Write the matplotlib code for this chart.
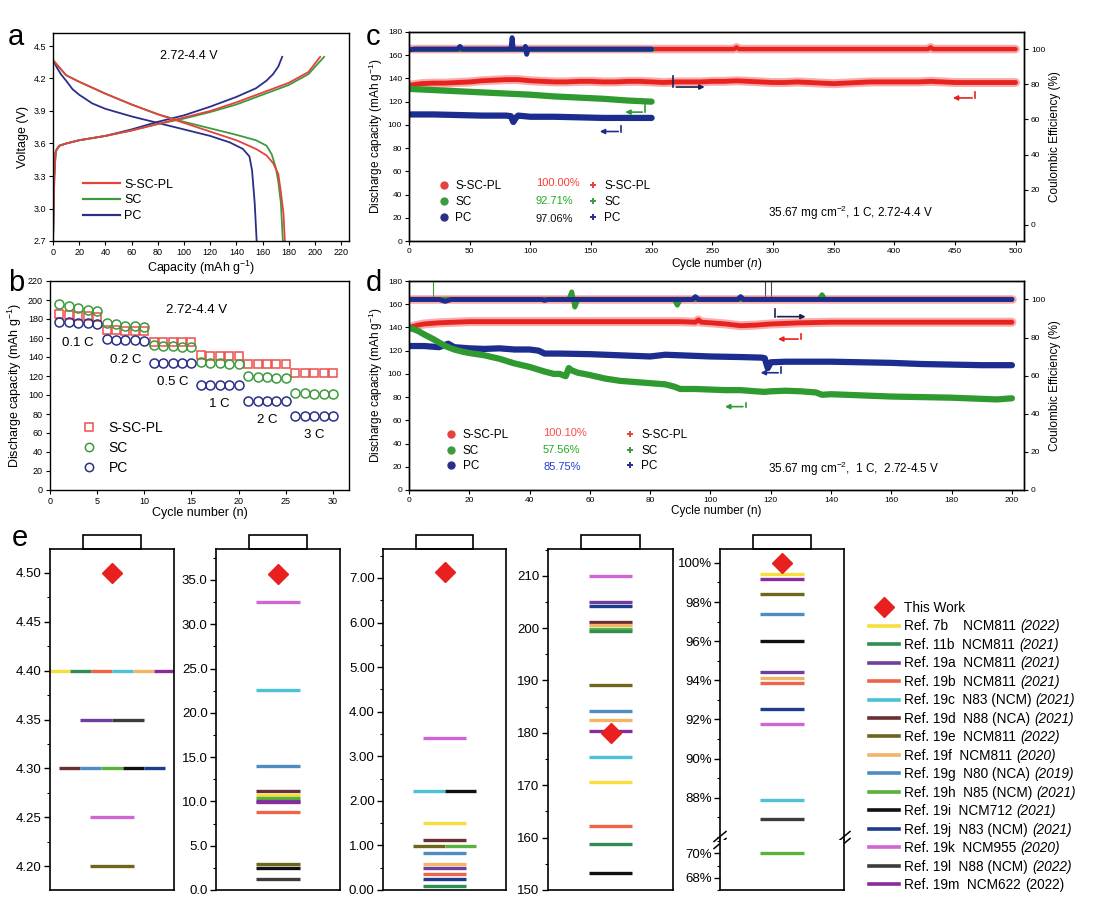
import matplotlib
matplotlib.use('Agg')
import matplotlib.pyplot as plt
from matplotlib.lines import Line2D
from matplotlib.patches import Rectangle
from matplotlib.ticker import MultipleLocator, FixedLocator

plt.rcParams['font.family'] = ['Liberation Sans', 'DejaVu Sans']
plt.rcParams['mathtext.fontset'] = 'custom'
plt.rcParams['mathtext.rm'] = 'Liberation Sans'
plt.rcParams['mathtext.it'] = 'Liberation Sans:italic'
plt.rcParams['mathtext.bf'] = 'Liberation Sans:bold'
plt.rcParams['axes.linewidth'] = 1.0

# ---------------- data: panel a (voltage profiles) ----------------
a_chg_cap_sscpl = [0, 1, 2, 3, 5, 10, 20, 40, 60, 80, 100, 120, 140, 160, 180, 195, 204]
a_chg_v_sscpl = [2.70, 3.30, 3.52, 3.55, 3.58, 3.60, 3.63, 3.67, 3.72, 3.78, 3.84, 3.90, 3.98, 4.07, 4.16, 4.26, 4.40]
a_chg_cap_sc = [0, 1, 2, 3, 5, 10, 20, 40, 60, 80, 100, 120, 140, 160, 180, 195, 207]
a_chg_v_sc = [2.70, 3.30, 3.52, 3.55, 3.58, 3.60, 3.63, 3.67, 3.72, 3.78, 3.83, 3.89, 3.96, 4.05, 4.14, 4.24, 4.40]
a_chg_cap_pc = [0, 1, 2, 3, 5, 10, 20, 40, 60, 80, 100, 120, 140, 155, 163, 168, 172, 175]
a_chg_v_pc = [2.70, 3.30, 3.52, 3.55, 3.58, 3.60, 3.63, 3.67, 3.73, 3.80, 3.86, 3.94, 4.03, 4.11, 4.18, 4.24, 4.31, 4.40]
a_dis_cap_sscpl = [0, 5, 10, 20, 40, 60, 80, 100, 120, 140, 155, 163, 168, 172, 174, 176, 177]
a_dis_v_sscpl = [4.37, 4.30, 4.23, 4.17, 4.06, 3.96, 3.87, 3.79, 3.71, 3.63, 3.55, 3.49, 3.42, 3.32, 3.15, 2.95, 2.70]
a_dis_cap_sc = [0, 5, 10, 20, 40, 60, 80, 100, 120, 140, 155, 163, 167, 170, 172, 174, 175.5]
a_dis_v_sc = [4.37, 4.30, 4.23, 4.17, 4.06, 3.96, 3.87, 3.80, 3.74, 3.68, 3.63, 3.58, 3.50, 3.38, 3.25, 3.05, 2.70]
a_dis_cap_pc = [0, 3, 6, 10, 15, 20, 30, 40, 60, 80, 100, 120, 135, 145, 150, 152, 154, 155.5]
a_dis_v_pc = [4.37, 4.30, 4.24, 4.18, 4.10, 4.05, 3.97, 3.92, 3.85, 3.79, 3.73, 3.67, 3.61, 3.55, 3.48, 3.35, 3.05, 2.70]

# ---------------- data: panel b (rate) ----------------
b_cycles = list(range(1, 31))
b_sscpl = [185, 184, 183, 183, 182, 168, 168, 167, 167, 167, 156, 156, 156, 156, 156,
           142, 141, 141, 141, 141, 133, 133, 133, 133, 133, 123, 123, 123, 123, 123]
b_sc = [196, 194, 192, 190, 188, 176, 175, 173, 173, 172, 153, 152, 152, 151, 151,
        135, 134, 134, 133, 133, 120, 119, 119, 118, 118, 102, 102, 101, 101, 101]
b_pc = [177, 177, 176, 176, 175, 159, 158, 158, 158, 157, 134, 134, 134, 134, 134,
        111, 111, 111, 111, 111, 94, 94, 94, 94, 94, 78, 78, 78, 78, 78]
b_rates = ['0.1 C', '0.2 C', '0.5 C', '1 C', '2 C', '3 C']

# ---------------- data: panel c (long cycling, 4.4 V) ----------------
c_cyc_sscpl = [0, 10, 20, 30, 40, 50, 60, 70, 80, 90, 100, 110, 120, 130, 140, 150, 160, 170, 180, 190,
               200, 210, 220, 230, 240, 250, 260, 270, 280, 290, 300, 310, 320, 330, 340, 350, 360, 370,
               380, 390, 400, 410, 420, 430, 440, 450, 460, 470, 480, 490, 500]
c_cap_sscpl = [134, 135.5, 136, 136, 136.5, 137, 138, 138.5, 139, 139, 138, 137.5, 137, 137, 137.5, 137.5,
               137, 137, 137.5, 137.5, 137, 136.5, 137, 137, 137, 137.5, 137.5, 138, 137.5, 137, 136.5,
               136.5, 137, 136.5, 136, 135.5, 136, 136.5, 137, 137, 137, 137, 137, 137.5, 137, 136.5,
               136.5, 136.5, 136.5, 136.5, 136.5]
c_cyc_sc = [0, 20, 40, 60, 80, 100, 120, 140, 160, 180, 200]
c_cap_sc = [131, 130, 129, 128, 127, 126, 124.5, 123.5, 122.5, 121, 120]
c_cyc_pc = [0, 20, 40, 60, 80, 84, 86, 88, 90, 100, 120, 140, 160, 180, 200]
c_cap_pc = [109, 109, 108.5, 108, 108, 107.5, 102.5, 106, 108, 107, 107, 106.5, 106, 106, 106]
c_ce_cyc_sscpl = [0, 50, 100, 150, 200, 250, 268, 270, 272, 300, 350, 400, 428, 430, 432, 450, 500]
c_ce_sscpl = [100, 100, 100, 100, 100, 100, 100, 101, 100, 100, 100, 100, 100, 101, 100, 100, 100]
c_ce_cyc_sc = [0, 50, 100, 150, 200]
c_ce_sc = [100, 100, 100, 100, 100]
c_ce_cyc_pc = [0, 5, 10, 20, 30, 40, 42, 44, 50, 60, 70, 80, 84, 85, 86, 90, 95, 96, 97, 98, 100,
               110, 120, 130, 140, 150, 160, 170, 180, 190, 200]
c_ce_pc = [99.5, 100, 100, 100, 100, 100, 101.5, 100, 100, 100, 100, 100, 100, 106.5, 100, 100, 100,
           101.5, 97, 100, 100, 100, 100, 100, 100, 100, 100, 100, 100, 100, 100]
c_retention = ['100.00%', '92.71%', '97.06%']

# ---------------- data: panel d (cycling, 4.5 V) ----------------
d_cyc_sscpl = [0, 3, 5, 10, 15, 20, 30, 40, 50, 60, 70, 80, 90, 95, 96, 97, 100, 105, 110, 115, 120,
               125, 130, 140, 150, 160, 170, 180, 190, 200]
d_cap_sscpl = [140, 142, 143, 144, 144.5, 145, 145, 145, 145, 145, 145, 145, 145, 144.5, 146.5, 144.5,
               144, 143, 141.5, 142, 143, 143.5, 144, 144.5, 144.5, 144.5, 144.5, 144.5, 144.5, 144.5]
d_cyc_sc = [0, 3, 5, 8, 10, 12, 15, 18, 20, 25, 30, 35, 40, 45, 48, 50, 52, 53, 54, 56, 60, 65, 70,
            75, 80, 85, 88, 90, 95, 100, 105, 110, 115, 118, 120, 125, 130, 135, 137, 140, 150, 160,
            170, 180, 190, 195, 200]
d_cap_sc = [140, 137, 134, 130, 127, 124, 121, 119, 118, 116, 113, 109, 106, 102, 100, 100, 98, 105,
            103, 101, 99, 96, 94, 93, 92, 91, 89, 87, 87, 86.5, 86, 86, 85, 84.5, 85, 85.5, 85, 84,
            82, 82.5, 81.5, 80.5, 80, 79.5, 78.5, 78, 79]
d_cyc_pc = [0, 5, 10, 13, 15, 20, 25, 30, 35, 40, 43, 45, 50, 60, 70, 75, 80, 85, 90, 95, 100, 110,
            117, 118, 119, 120, 125, 130, 140, 150, 160, 170, 180, 190, 200]
d_cap_pc = [124, 124, 123, 126, 123, 122, 121.5, 122, 121, 121, 120, 117.5, 117.5, 117, 116, 115.5,
            115, 116.5, 116, 115.5, 115, 114.5, 114, 113.5, 105, 110, 110.5, 110.5, 110.5, 110, 109.5,
            108.5, 108, 107.5, 107.5]
d_ce_cyc_sscpl = [0, 20, 40, 60, 80, 100, 120, 140, 160, 180, 200]
d_ce_sscpl = [100, 100, 100, 100, 100, 100, 100, 100, 100, 100, 100]
d_ce_cyc_sc = [0, 20, 40, 53, 54, 55, 56, 70, 88, 89, 90, 110, 136, 137, 138, 160, 180, 200]
d_ce_sc = [100, 100, 100, 100, 104, 96, 100, 100, 100, 97, 100, 100, 100, 102.5, 100, 100, 100, 100]
d_ce_cyc_pc = [0, 10, 12, 14, 30, 44, 45, 46, 60, 80, 94, 95, 96, 100, 109, 110, 111, 117, 121,
               122, 140, 160, 180, 200]
d_ce_pc = [100, 100, 99, 100, 100, 100, 99.5, 100, 100, 100, 100, 101.5, 100, 100, 100, 101.5, 100,
           100, 100, 100, 100, 100, 100, 100]
d_ce_spike_cyc = [8, 118, 120]
d_ce_spike_top = [125, 125, 125]
d_ce_spike_color = ['#3a9a3a', '#444466', '#444466']
d_retention = ['100.10%', '57.56%', '85.75%']

# ---------------- data: panel e (comparison) ----------------
ref_keys = ['7b', '11b', '19a', '19b', '19c', '19d', '19e', '19f', '19g', '19h', '19i', '19j',
            '19k', '19l', '19m']
ref_colors = ['#f6df3c', '#2f8d55', '#6f3f9e', '#ee6446', '#4cc2d6', '#6a2f33', '#6b681c', '#f3b467',
              '#4f8cc4', '#58b23c', '#101010', '#1e3c8c', '#d066d6', '#3c3c3c', '#8a2b9c']
ref_names = ['Ref. 7b    NCM811', 'Ref. 11b  NCM811', 'Ref. 19a  NCM811', 'Ref. 19b  NCM811',
             'Ref. 19c  N83 (NCM)', 'Ref. 19d  N88 (NCA)', 'Ref. 19e  NCM811', 'Ref. 19f  NCM811',
             'Ref. 19g  N80 (NCA)', 'Ref. 19h  N85 (NCM)', 'Ref. 19i  NCM712', 'Ref. 19j  N83 (NCM)',
             'Ref. 19k  NCM955', 'Ref. 19l  N88 (NCM)', 'Ref. 19m  NCM622']
ref_years = ['(2022)', '(2021)', '(2021)', '(2021)', '(2021)', '(2021)', '(2022)', '(2020)', '(2019)',
             '(2021)', '(2021)', '(2021)', '(2020)', '(2022)', '(2022)']
ref_year_italic = [True, True, True, True, True, True, True, True, True, True, True, True, True, True, False]

e1_refs = ['7b', '11b', '19b', '19c', '19f', '19m', '19a', '19l', '19d', '19g', '19h', '19i', '19j', '19k', '19e']
e1_vals = [4.40, 4.40, 4.40, 4.40, 4.40, 4.40, 4.35, 4.35, 4.30, 4.30, 4.30, 4.30, 4.30, 4.25, 4.20]
e1_work = 4.50
e2_refs = ['19k', '19c', '19g', '19d', '7b', '19h', '19a', '19m', '19b', '19e', '19i', '19l']
e2_vals = [32.5, 22.6, 14.0, 11.2, 10.75, 10.4, 10.1, 9.9, 8.8, 2.9, 2.45, 1.25]
e2_work = 35.67
e3_refs = ['19k', '19c', '19i', '7b', '19d', '19e', '19h', '19g', '19f', '19a', '19b', '19j', '11b']
e3_vals = [3.41, 2.23, 2.23, 1.51, 1.12, 0.98, 0.98, 0.83, 0.58, 0.50, 0.36, 0.25, 0.10]
e3_work = 7.13
e4_refs = ['19k', '19a', '19j', '19d', '19f', '19h', '11b', '19e', '19g', '19f', '19m', '19c', '7b', '19b', '11b', '19i']
e4_vals = [210.0, 204.9, 204.3, 201.2, 200.6, 199.8, 199.4, 189.2, 184.2, 182.5, 180.4, 175.4, 170.6, 162.2, 158.7, 153.3]
e4_work = 180.0
e5_refs = ['7b', '19m', '19e', '19g', '19i', '19a', '19f', '19b', '19j', '19k', '19c', '19l', '19h']
e5_vals = [99.45, 99.18, 98.4, 97.4, 96.0, 94.43, 94.1, 93.85, 92.55, 91.75, 87.9, 86.9, 70.0]
e5_work = 100.0

# ---------------- styling ----------------
RED, GREEN, BLUE = '#e5423e', '#3f9a3f', '#2b2f86'
W, H = 1105, 898
fig = plt.figure(figsize=(W / 100, H / 100), dpi=100)


def ax_px(x0, y0, x1, y1):
    return fig.add_axes([x0 / W, 1 - y1 / H, (x1 - x0) / W, (y1 - y0) / H])


def small_ticks(ax, size=6.5):
    ax.tick_params(direction='out', length=3, width=0.8, labelsize=size, pad=2)


def plabel(x, y, s):
    fig.text(x / W, 1 - y / H, s, fontsize=21, ha='left', va='center')


# ================= panel a =================
axa = ax_px(53, 33, 349, 241)
for cap, v, col in [(a_chg_cap_pc, a_chg_v_pc, BLUE), (a_dis_cap_pc, a_dis_v_pc, BLUE),
                    (a_chg_cap_sc, a_chg_v_sc, GREEN), (a_dis_cap_sc, a_dis_v_sc, GREEN),
                    (a_chg_cap_sscpl, a_chg_v_sscpl, RED), (a_dis_cap_sscpl, a_dis_v_sscpl, RED)]:
    axa.plot(cap, v, color=col, lw=1.3)
axa.set_xlim(0, 226)
axa.set_ylim(2.7, 4.62)
axa.set_xticks(range(0, 221, 20))
axa.set_yticks([2.7, 3.0, 3.3, 3.6, 3.9, 4.2, 4.5])
axa.set_yticklabels(['2.7', '3.0', '3.3', '3.6', '3.9', '4.2', '4.5'])
small_ticks(axa)
axa.set_xlabel('Capacity (mAh g$^{-1}$)', fontsize=9, labelpad=1)
axa.set_ylabel('Voltage (V)', fontsize=9, labelpad=3)
axa.text(0.46, 0.89, '2.72-4.4 V', transform=axa.transAxes, fontsize=9, ha='center', va='center')
axa.legend([Line2D([], [], color=c, lw=1.6) for c in (RED, GREEN, BLUE)], ['S-SC-PL', 'SC', 'PC'],
           loc='upper left', bbox_to_anchor=(0.08, 0.33), frameon=False, fontsize=9,
           handlelength=3.0, handletextpad=0.3, labelspacing=0.3, borderpad=0)
plabel(8, 37, 'a')

# ================= panel b =================
axb = ax_px(50, 281, 349, 490)
axb.plot(b_cycles, b_sscpl, ls='none', marker='s', ms=6, mfc='none', mec='#e8504c', mew=1.1)
axb.plot(b_cycles, b_sc, ls='none', marker='o', ms=6.5, mfc='none', mec='#3c9a3c', mew=1.1)
axb.plot(b_cycles, b_pc, ls='none', marker='o', ms=6.5, mfc='none', mec='#2b2f86', mew=1.1)
axb.set_xlim(0, 31.7)
axb.set_ylim(0, 220)
axb.set_xticks(range(0, 31, 5))
axb.set_yticks(range(0, 221, 20))
small_ticks(axb)
axb.set_xlabel('Cycle number (n)', fontsize=9, labelpad=1)
axb.set_ylabel('Discharge capacity (mAh g$^{-1}$)', fontsize=9, labelpad=3)
axb.text(0.49, 0.86, '2.72-4.4 V', transform=axb.transAxes, fontsize=9.5, ha='center', va='center')
for i, r in enumerate(b_rates):
    blk = b_pc[i * 5:(i + 1) * 5]
    axb.annotate(r, (b_cycles[i * 5 + 2], min(blk)), xytext=(0, -14), textcoords='offset points',
                 fontsize=9.5, ha='center', va='center')
axb.legend([Line2D([], [], ls='none', marker=m, ms=6, mfc='none', mec=c, mew=1.1)
            for m, c in (('s', '#e8504c'), ('o', '#3c9a3c'), ('o', '#2b2f86'))],
           ['S-SC-PL', 'SC', 'PC'], loc='upper left', bbox_to_anchor=(0.08, 0.365), frameon=False,
           fontsize=10, handlelength=1.2, handletextpad=0.8, labelspacing=0.45, borderpad=0)
plabel(8, 283, 'b')


# ================= panel c & d helpers =================
def cycling_axes(x0, y0, x1, y1, xmax, xstep, r_lim):
    ax = ax_px(x0, y0, x1, y1)
    ax2 = ax.twinx()
    ax.set_xlim(0, xmax)
    ax.set_ylim(0, 180)
    ax2.set_ylim(*r_lim)
    ax.set_xticks(range(0, int(xmax) + 1, xstep))
    ax.set_yticks(range(0, 181, 20))
    ax2.set_yticks(range(0, 101, 20))
    small_ticks(ax, 6)
    small_ticks(ax2, 6)
    ax.set_ylabel('Discharge capacity (mAh g$^{-1}$)', fontsize=8.5, labelpad=2)
    ax2.set_ylabel('Coulombic Efficiency (%)', fontsize=8.5, labelpad=3)
    return ax, ax2


def band(ax, x, y, col, lw, glow=None):
    if glow:
        ax.plot(x, y, color=glow, lw=lw + 3, alpha=0.55, solid_capstyle='round')
    ax.plot(x, y, color=col, lw=lw, solid_capstyle='round')


def hook(ax, x_v, y_top, y_bot, x_end, col):
    ax.plot([x_v, x_v], [y_top, y_bot], color=col, lw=1.2)
    ax.annotate('', xy=(x_end, y_bot), xytext=(x_v, y_bot),
                arrowprops=dict(arrowstyle='-|>', color=col, lw=1.2, mutation_scale=7))


# ================= panel c =================
axc, axc2 = cycling_axes(409, 32, 1024, 241, 507, 50, (-9.1, 109.7))
band(axc, c_cyc_sscpl, c_cap_sscpl, '#e8231f', 3.5, glow='#f26b6b')
band(axc, c_cyc_sc, c_cap_sc, '#2f9a2f', 4.5)
band(axc, c_cyc_pc, c_cap_pc, '#1d2c8f', 4.5)
band(axc2, c_ce_cyc_sscpl, c_ce_sscpl, '#e8231f', 3.2, glow='#f26b6b')
band(axc2, c_ce_cyc_sc, c_ce_sc, '#2f9a2f', 3.5)
band(axc2, c_ce_cyc_pc, c_ce_pc, '#1d2c8f', 3.5)
axc.set_xlabel('Cycle number ($\\it{n}$)', fontsize=8.5, labelpad=1)
hook(axc, 218, 142, 132.6, 246, '#1a2050')
hook(axc, 466.6, 128.3, 123.2, 446, '#e8231f')
hook(axc, 194.6, 118.9, 111, 176, '#2f9a2f')
hook(axc, 174.8, 99, 94.3, 155, '#1d2c8f')
l1 = axc.legend([Line2D([], [], ls='none', marker='o', ms=5, color=c) for c in (RED, GREEN, BLUE)],
                ['S-SC-PL', 'SC', 'PC'], loc='upper left', bbox_to_anchor=(0.038, 0.318), frameon=False,
                fontsize=8.5, handlelength=1.0, handletextpad=0.45, labelspacing=0.33, borderpad=0)
axc.add_artist(l1)
for i, (p, pc) in enumerate(zip(c_retention, ['#ff3b3b', '#22aa22', '#111111'])):
    axc.text(0.206, 0.276 - i * 0.085, p, transform=axc.transAxes, fontsize=8, color=pc,
             ha='left', va='center')
axc.legend([Line2D([], [], ls='none', marker='+', ms=5, mew=1.4, color=c) for c in (RED, GREEN, BLUE)],
           ['S-SC-PL', 'SC', 'PC'], loc='upper left', bbox_to_anchor=(0.28, 0.318), frameon=False,
           fontsize=8.5, handlelength=1.0, handletextpad=0.45, labelspacing=0.33, borderpad=0)
axc.text(0.584, 0.134, '35.67 mg cm$^{-2}$, 1 C, 2.72-4.4 V', transform=axc.transAxes, fontsize=8.5,
         ha='left', va='center')
plabel(366, 37, 'c')

# ================= panel d =================
axd, axd2 = cycling_axes(409, 281, 1024, 490, 204, 20, (0, 109.7))
axd2.vlines(d_ce_spike_cyc, 100, d_ce_spike_top, colors=d_ce_spike_color, lw=0.8)
band(axd, d_cyc_sscpl, d_cap_sscpl, '#e8231f', 3.5, glow='#f26b6b')
band(axd, d_cyc_pc, d_cap_pc, '#1d2c8f', 4.5)
band(axd, d_cyc_sc, d_cap_sc, '#2f9a2f', 4.5)
band(axd2, d_ce_cyc_sscpl, d_ce_sscpl, '#e8231f', 3.2, glow='#f26b6b')
band(axd2, d_ce_cyc_sc, d_ce_sc, '#2f9a2f', 3.5)
band(axd2, d_ce_cyc_pc, d_ce_pc, '#1d2c8f', 3.5)
axd.set_xlabel('Cycle number (n)', fontsize=8.5, labelpad=1)
hook(axd, 121.3, 155.9, 149.3, 132.5, '#1a2050')
hook(axd, 130, 134, 130, 121.5, '#e8231f')
hook(axd, 123.4, 106.2, 101, 115.7, '#1d2c8f')
hook(axd, 111.7, 75.2, 71.8, 103.9, '#2f9a2f')
l1 = axd.legend([Line2D([], [], ls='none', marker='o', ms=5, color=c) for c in (RED, GREEN, BLUE)],
                ['S-SC-PL', 'SC', 'PC'], loc='upper left', bbox_to_anchor=(0.049, 0.318), frameon=False,
                fontsize=8.5, handlelength=1.0, handletextpad=0.5, labelspacing=0.28, borderpad=0)
axd.add_artist(l1)
for i, (p, pc) in enumerate(zip(d_retention, ['#ff4b4b', '#22aa22', '#2b3bd6'])):
    axd.text(0.218, 0.273 - i * 0.081, p, transform=axd.transAxes, fontsize=8, color=pc,
             ha='left', va='center')
axd.legend([Line2D([], [], ls='none', marker='+', ms=5, mew=1.4, color=c) for c in (RED, GREEN, BLUE)],
           ['S-SC-PL', 'SC', 'PC'], loc='upper left', bbox_to_anchor=(0.34, 0.318), frameon=False,
           fontsize=8.5, handlelength=1.0, handletextpad=0.45, labelspacing=0.28, borderpad=0)
axd.text(0.584, 0.1, '35.67 mg cm$^{-2}$,  1 C,  2.72-4.5 V', transform=axd.transAxes, fontsize=8.5,
         ha='left', va='center')
plabel(366, 283, 'd')

# ================= panel e =================
col_of = dict(zip(ref_keys, ref_colors))


def draw_segments(ax, refs, vals):
    groups = {}
    for r, v in zip(refs, vals):
        groups.setdefault(v, []).append(r)
    for v, rs in groups.items():
        n = len(rs)
        w = 0.35 if n == 1 else (0.26 if n == 2 else 0.17)
        x0 = 0.5 - n * w / 2
        for i, r in enumerate(rs):
            ax.plot([x0 + i * w, x0 + (i + 1) * w], [v, v], color=col_of[r], lw=2.4,
                    solid_capstyle='butt')


def style_e(ax, major, minor, fmt_labels=None):
    ax.set_xlim(0, 1)
    ax.set_xticks([])
    ax.yaxis.set_major_locator(FixedLocator(major))
    ax.yaxis.set_minor_locator(MultipleLocator(minor))
    if fmt_labels is not None:
        ax.set_yticklabels(fmt_labels)
    ax.tick_params(axis='y', which='major', direction='out', length=4, width=1, labelsize=9.5, pad=2)
    ax.tick_params(axis='y', which='minor', direction='out', length=2, width=0.8)
    for s in ax.spines.values():
        s.set_linewidth(1.2)


def tab(ax, frac_h):
    ax.add_patch(Rectangle((0.265, 1.0), 0.47, frac_h, transform=ax.transAxes, fill=False, lw=1.2,
                           clip_on=False))


def work(ax, v):
    ax.plot([0.5], [v], ls='none', marker='D', ms=10, color='#e8201f', zorder=5)


E_TOP, E_BOT = 549, 890
EH = E_BOT - E_TOP
ax1 = ax_px(50, E_TOP, 174, E_BOT)
draw_segments(ax1, e1_refs, e1_vals)
work(ax1, e1_work)
ax1.set_ylim(4.176, 4.524)
style_e(ax1, [4.20, 4.25, 4.30, 4.35, 4.40, 4.45, 4.50], 0.025,
        ['4.20', '4.25', '4.30', '4.35', '4.40', '4.45', '4.50'])
tab(ax1, 14 / EH)

ax2e = ax_px(216, E_TOP, 340, E_BOT)
draw_segments(ax2e, e2_refs, e2_vals)
work(ax2e, e2_work)
ax2e.set_ylim(0, 38.5)
style_e(ax2e, [0, 5, 10, 15, 20, 25, 30, 35], 2.5,
        ['0.0', '5.0', '10.0', '15.0', '20.0', '25.0', '30.0', '35.0'])
tab(ax2e, 14 / EH)

ax3e = ax_px(383, E_TOP, 506, E_BOT)
draw_segments(ax3e, e3_refs, e3_vals)
work(ax3e, e3_work)
ax3e.set_ylim(0, 7.65)
style_e(ax3e, [0, 1, 2, 3, 4, 5, 6, 7], 0.5,
        ['0.00', '1.00', '2.00', '3.00', '4.00', '5.00', '6.00', '7.00'])
tab(ax3e, 14 / EH)

ax4e = ax_px(548, E_TOP, 673, E_BOT)
draw_segments(ax4e, e4_refs, e4_vals)
work(ax4e, e4_work)
ax4e.set_ylim(150, 215.1)
style_e(ax4e, [150, 160, 170, 180, 190, 200, 210], 5)
tab(ax4e, 14 / EH)

E_BRK = 840
ax5t = ax_px(720, E_TOP, 844, E_BRK)
ax5b = ax_px(720, E_BRK, 844, E_BOT)
top_r = [r for r, v in zip(e5_refs, e5_vals) if v >= 80]
top_v = [v for v in e5_vals if v >= 80]
bot_r = [r for r, v in zip(e5_refs, e5_vals) if v < 80]
bot_v = [v for v in e5_vals if v < 80]
draw_segments(ax5t, top_r, top_v)
draw_segments(ax5b, bot_r, bot_v)
work(ax5t, e5_work)
ax5t.set_ylim(85.84, 100.71)
ax5b.set_ylim(67.0, 71.1)
style_e(ax5t, [88, 90, 92, 94, 96, 98, 100], 1, ['88%', '90%', '92%', '94%', '96%', '98%', '100%'])
style_e(ax5b, [68, 70], 1, ['68%', '70%'])
ax5t.spines['bottom'].set_visible(False)
ax5b.spines['top'].set_visible(False)
tab(ax5t, 14 / (E_BRK - E_TOP))
th = E_BRK - E_TOP
for xa in (0.0, 1.0):
    for dy in (-3.5, 3.5):
        ax5t.add_line(Line2D([xa - 6 / 124, xa + 6 / 124],
                             [(-5 + dy) / th, (5 + dy) / th],
                             transform=ax5t.transAxes, color='k', lw=1.1, clip_on=False))

fig.text(12 / W, 1 - 538 / H, 'e', fontsize=21, ha='left', va='center')

handles = [Line2D([], [], ls='none', marker='D', ms=10, color='#e8201f')]
handles += [Line2D([], [], color=c, lw=2.6) for c in ref_colors]
labels = ['This Work'] + ref_names
leg_e = fig.legend(handles, labels, loc='upper left', bbox_to_anchor=(862 / W, 1 - 594 / H),
                   frameon=False, fontsize=9.8, handlelength=2.2, handletextpad=0.4,
                   labelspacing=0.33, borderpad=0)
fig.canvas.draw()
for t, yr, it in zip(leg_e.get_texts()[1:], ref_years, ref_year_italic):
    bb = t.get_window_extent()
    fig.text((bb.x1 + 4) / W, bb.y0 / H, yr, fontsize=9.8, style='italic' if it else 'normal',
             ha='left', va='bottom')

fig.savefig('out.png', dpi=100)
